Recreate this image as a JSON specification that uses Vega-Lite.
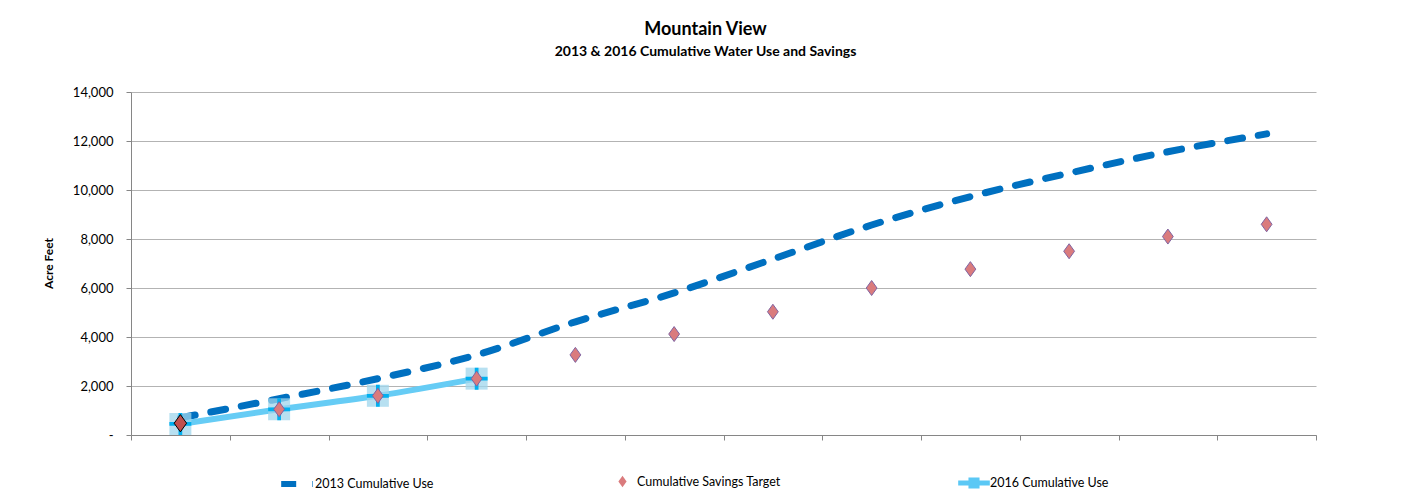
{
  "$schema": "https://vega.github.io/schema/vega-lite/v6.json",
  "autosize": {"type": "none"},
  "width": 1185,
  "height": 343,
  "padding": {"left": 131, "top": 92, "right": 85, "bottom": 68},
  "background": "white",
  "config": {
    "font": "Lato",
    "view": {"stroke": null},
    "legend": {"padding": 0, "labelFont": "Lato", "labelFontSize": 12.5, "labelColor": "#000", "labelOffset": 3}
  },
  "title": {
    "text": "Mountain View",
    "subtitle": "2013 & 2016 Cumulative Water Use and Savings",
    "anchor": "middle",
    "frame": "group",
    "dx": -18,
    "offset": 27,
    "font": "Lato",
    "fontSize": 18,
    "fontWeight": "bold",
    "color": "#000",
    "subtitleFont": "Lato",
    "subtitleFontSize": 14,
    "subtitleFontWeight": "bold",
    "subtitleColor": "#000",
    "subtitlePadding": 6
  },
  "datasets": {
    "use2013": [
      {"month": 1, "series": "2013 Cumulative Use", "value": 700},
      {"month": 2, "series": "2013 Cumulative Use", "value": 1480},
      {"month": 3, "series": "2013 Cumulative Use", "value": 2300},
      {"month": 4, "series": "2013 Cumulative Use", "value": 3270},
      {"month": 5, "series": "2013 Cumulative Use", "value": 4620},
      {"month": 6, "series": "2013 Cumulative Use", "value": 5800},
      {"month": 7, "series": "2013 Cumulative Use", "value": 7180},
      {"month": 8, "series": "2013 Cumulative Use", "value": 8570},
      {"month": 9, "series": "2013 Cumulative Use", "value": 9730},
      {"month": 10, "series": "2013 Cumulative Use", "value": 10690},
      {"month": 11, "series": "2013 Cumulative Use", "value": 11560},
      {"month": 12, "series": "2013 Cumulative Use", "value": 12290}
    ],
    "target": [
      {"month": 1, "series": "Cumulative Savings Target", "value": 480},
      {"month": 2, "series": "Cumulative Savings Target", "value": 1050},
      {"month": 3, "series": "Cumulative Savings Target", "value": 1600},
      {"month": 4, "series": "Cumulative Savings Target", "value": 2300},
      {"month": 5, "series": "Cumulative Savings Target", "value": 3270},
      {"month": 6, "series": "Cumulative Savings Target", "value": 4120},
      {"month": 7, "series": "Cumulative Savings Target", "value": 5030},
      {"month": 8, "series": "Cumulative Savings Target", "value": 6000},
      {"month": 9, "series": "Cumulative Savings Target", "value": 6770},
      {"month": 10, "series": "Cumulative Savings Target", "value": 7500},
      {"month": 11, "series": "Cumulative Savings Target", "value": 8100},
      {"month": 12, "series": "Cumulative Savings Target", "value": 8600}
    ],
    "use2016": [
      {"month": 1, "series": "2016 Cumulative Use", "value": 450},
      {"month": 2, "series": "2016 Cumulative Use", "value": 1050},
      {"month": 3, "series": "2016 Cumulative Use", "value": 1600},
      {"month": 4, "series": "2016 Cumulative Use", "value": 2300}
    ]
  },
  "encoding": {
    "x": {
      "field": "month",
      "type": "quantitative",
      "scale": {"domain": [0.5, 12.5], "nice": false, "zero": false},
      "axis": {
        "title": null,
        "labels": false,
        "grid": false,
        "values": [0.5, 1.5, 2.5, 3.5, 4.5, 5.5, 6.5, 7.5, 8.5, 9.5, 10.5, 11.5, 12.5],
        "domainColor": "#868686",
        "tickColor": "#868686",
        "tickSize": 5
      }
    },
    "y": {
      "field": "value",
      "type": "quantitative",
      "scale": {"domain": [0, 14000], "nice": false},
      "axis": {
        "title": "Acre Feet",
        "titleFont": "Lato",
        "titleFontSize": 12,
        "titleFontWeight": "bold",
        "titleColor": "#000",
        "titleX": -83,
        "titleY": 171,
        "titleAlign": "center",
        "titleBaseline": "middle",
        "titleAngle": -90,
        "values": [0, 2000, 4000, 6000, 8000, 10000, 12000, 14000],
        "labelExpr": "datum.value == 0 ? '-' : format(datum.value, ',')",
        "labelFont": "Lato",
        "labelFontSize": 13,
        "labelColor": "#000",
        "labelPadding": 13,
        "tickSize": 5,
        "tickColor": "#868686",
        "domainColor": "#868686",
        "gridColor": "#B3B3B3",
        "gridWidth": 1
      }
    }
  },
  "layer": [
    {
      "data": {"name": "use2013"},
      "mark": {"type": "line", "color": "#0070C0", "strokeWidth": 7, "strokeCap": "round", "interpolate": "monotone"},
      "encoding": {
        "strokeDash": {
          "field": "series",
          "type": "nominal",
          "scale": {"domain": ["2013 Cumulative Use"], "range": [[15, 16]]},
          "legend": {
            "title": null,
            "orient": "none",
            "legendX": 147,
            "legendY": 373,
            "symbolType": "stroke",
            "symbolSize": 1000,
            "symbolStrokeWidth": 6,
            "symbolStrokeColor": "#0070C0",
            "symbolDash": [21, 6],
            "labelOffset": -1
          }
        }
      }
    },
    {
      "data": {"name": "use2016"},
      "mark": {"type": "line", "strokeWidth": 6, "interpolate": "monotone"},
      "encoding": {
        "color": {
          "field": "series",
          "type": "nominal",
          "scale": {"domain": ["2016 Cumulative Use"], "range": ["#66CCF5"]},
          "legend": {
            "title": null,
            "orient": "none",
            "legendX": 827,
            "legendY": 375,
            "symbolType": "M-1,-0.16H-0.35V-0.35H0.35V-0.16H1V0.16H0.35V0.35H-0.35V0.16H-1Z",
            "symbolSize": 1000,
            "symbolFillColor": "#5BC8F5",
            "symbolStrokeWidth": 0,
            "labelOffset": 0
          }
        }
      }
    },
    {
      "data": {"name": "use2016"},
      "mark": {"type": "point", "shape": "square", "size": 484, "filled": true, "color": "#9FD6EC", "opacity": 0.75, "strokeWidth": 0}
    },
    {
      "data": {"name": "use2016"},
      "mark": {"type": "point", "shape": "M-1,-0.17H1V0.17H-1Z M-0.17,-1H0.17V1H-0.17Z", "size": 484, "filled": true, "color": "#00B0F0", "opacity": 1, "strokeWidth": 0}
    },
    {
      "data": {"name": "target"},
      "mark": {"type": "point", "filled": true, "opacity": 1, "strokeWidth": 1},
      "encoding": {
        "shape": {
          "field": "series",
          "type": "nominal",
          "scale": {"domain": ["Cumulative Savings Target"], "range": ["M0,-1L0.72,0L0,1L-0.72,0Z"]},
          "legend": {
            "title": null,
            "orient": "none",
            "legendX": 485,
            "legendY": 383,
            "symbolSize": 130,
            "symbolFillColor": "#D9787A",
            "symbolStrokeColor": "#8064A2",
            "symbolStrokeWidth": 1,
            "labelOffset": 8
          }
        },
        "fill": {"condition": {"test": "datum.month == 1", "value": "#C0504D"}, "value": "#DA7B7D"},
        "stroke": {"condition": {"test": "datum.month == 1", "value": "#000000"}, "value": "#8064A2"},
        "size": {"condition": {"test": "datum.month == 1", "value": 300}, "value": 225}
      }
    }
  ]
}
